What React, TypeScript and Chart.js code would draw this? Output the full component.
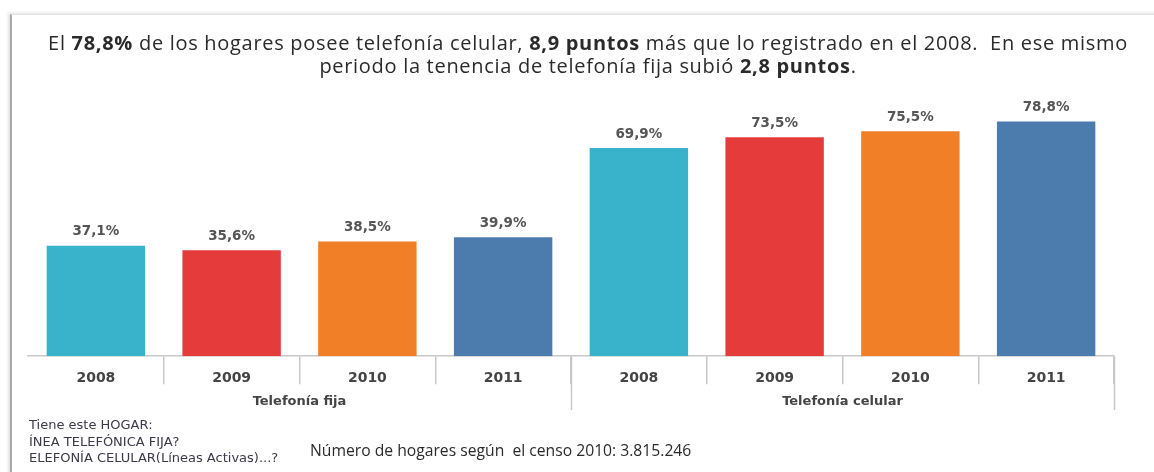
import React, { useEffect, useRef } from "react";
import { Chart, registerables } from "chart.js";

Chart.register(...registerables);

const years = ["2008", "2009", "2010", "2011", "2008", "2009", "2010", "2011"];
const values = [37.1, 35.6, 38.5, 39.9, 69.9, 73.5, 75.5, 78.8];
const valueLabels = ["37,1%", "35,6%", "38,5%", "39,9%", "69,9%", "73,5%", "75,5%", "78,8%"];
const groupNames = ["Telefonía fija", "Telefonía celular"];
const groupSizes = [4, 4];
const barColors = ["#39B3CB", "#E53B3B", "#F07F28", "#4C7BAE", "#39B3CB", "#E53B3B", "#F07F28", "#4C7BAE"];

const labelFont = "'DejaVu Sans', sans-serif";

const dataLabelPlugin = {
  id: "dataLabels",
  afterDatasetsDraw(chart: any) {
    const ctx = chart.ctx;
    const meta = chart.getDatasetMeta(0);
    ctx.save();
    ctx.font = `bold 13.5px ${labelFont}`;
    ctx.fillStyle = "#555555";
    ctx.textAlign = "center";
    ctx.textBaseline = "bottom";
    meta.data.forEach((bar: any, i: number) => {
      ctx.fillText(valueLabels[i], bar.x, bar.y - 7);
    });
    ctx.restore();
  },
};

const groupAxisPlugin = {
  id: "groupAxis",
  afterDraw(chart: any) {
    const ctx = chart.ctx;
    const xs = chart.scales.x;
    const area = chart.chartArea;
    const n = years.length;
    const step = (xs.getPixelForValue(n - 1) - xs.getPixelForValue(0)) / (n - 1);
    ctx.save();
    ctx.strokeStyle = "#c8c8c8";
    ctx.lineWidth = 1.5;
    ctx.font = `bold 13px ${labelFont}`;
    ctx.fillStyle = "#444444";
    ctx.textAlign = "center";
    ctx.textBaseline = "middle";
    let start = 0;
    groupSizes.forEach((size, g) => {
      const left = xs.getPixelForValue(start) - step / 2;
      const right = xs.getPixelForValue(start + size - 1) + step / 2;
      const rx = Math.round(right) + 0.5;
      ctx.beginPath();
      ctx.moveTo(rx, area.bottom);
      ctx.lineTo(rx, 410);
      ctx.stroke();
      ctx.fillText(groupNames[g], (left + right) / 2, 402);
      start += size;
    });
    ctx.restore();
  },
};

function BarChart() {
  const ref = useRef<HTMLCanvasElement>(null);
  useEffect(() => {
    const chart = new Chart(ref.current as HTMLCanvasElement, {
      type: "bar",
      data: {
        labels: years,
        datasets: [
          {
            data: values,
            backgroundColor: barColors,
            borderWidth: 0,
            barPercentage: 0.725,
            categoryPercentage: 1,
          },
        ],
      },
      options: {
        responsive: false,
        animation: false,
        devicePixelRatio: 1,
        layout: { padding: { left: 28, right: 40, top: 100, bottom: 75 } },
        plugins: { legend: { display: false }, tooltip: { enabled: false } },
        scales: {
          y: { display: false, min: 0, max: 86 },
          x: {
            grid: {
              offset: true,
              drawOnChartArea: false,
              tickLength: 28,
              lineWidth: 1.5,
              color: (c: any) => (c.index === 0 ? "rgba(0,0,0,0)" : "#c8c8c8"),
            },
            border: { display: true, color: "#c8c8c8", width: 1.5 },
            title: { display: true, text: " ", padding: 0, font: { size: 20, lineHeight: 1.2 } },
            ticks: {
              padding: -14,
              color: "#444444",
              font: { family: labelFont, size: 14, weight: "bold", lineHeight: 1.2 },
              maxRotation: 0,
              autoSkip: false,
            },
          },
        },
      },
      plugins: [dataLabelPlugin, groupAxisPlugin],
    });
    return () => chart.destroy();
  }, []);
  return <canvas ref={ref} width={1154} height={472} style={{ position: "absolute", left: 0, top: 0 }} />;
}

export default function App() {
  return (
    <div style={{ position: "fixed", left: 0, top: 0, width: 1154, height: 472, background: "#fff", overflow: "hidden" }}>
      <div
        style={{
          position: "absolute",
          left: 10,
          top: 14,
          width: 1160,
          height: 470,
          borderLeft: "2px solid #a8a8a8",
          borderTop: "1px solid #e2e2e2",
          boxShadow: "-2px -1px 3px rgba(0,0,0,0.12)",
        }}
      />
      <BarChart />
      <div
        style={{
          position: "absolute",
          left: 0,
          top: 31,
          width: 1176,
          textAlign: "center",
          fontFamily: "'Open Sans', sans-serif",
          fontSize: 20,
          letterSpacing: "0.7px",
          lineHeight: "23px",
          color: "#2a2a2a",
          whiteSpace: "nowrap",
        }}
      >
        El <b>78,8%</b> de los hogares posee telefonía celular, <b>8,9 puntos</b> más que lo registrado en el 2008.&nbsp; En ese mismo
        <br />
        periodo la tenencia de telefonía fija subió <b>2,8 puntos</b>.
      </div>
      <div
        style={{
          position: "absolute",
          left: 29,
          top: 417,
          fontFamily: labelFont,
          fontSize: 13,
          lineHeight: "16.5px",
          color: "#3a3a48",
          whiteSpace: "nowrap",
        }}
      >
        Tiene este HOGAR:
        <br />
        ÍNEA TELEFÓNICA FIJA?
        <br />
        ELEFONÍA CELULAR(Líneas Activas)...?
      </div>
      <div
        style={{
          position: "absolute",
          left: 310,
          top: 440,
          fontFamily: "'Open Sans', sans-serif",
          fontSize: 15.7,
          lineHeight: "20px",
          color: "#2a2a2a",
          whiteSpace: "nowrap",
        }}
      >
        Número de hogares según&nbsp; el censo 2010: 3.815.246
      </div>
    </div>
  );
}
